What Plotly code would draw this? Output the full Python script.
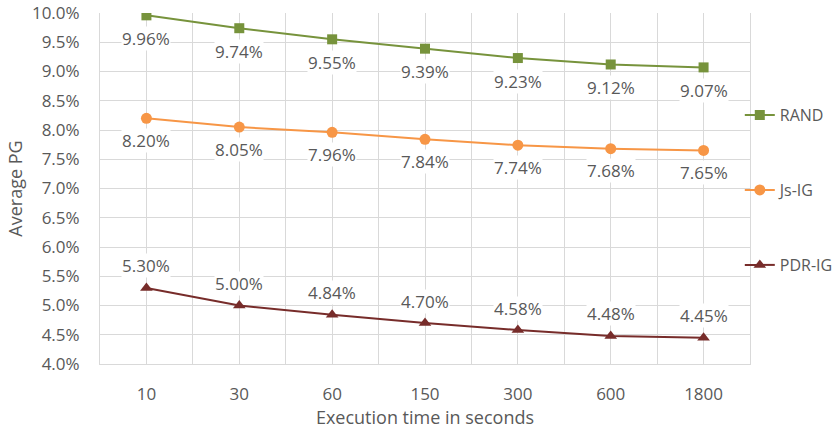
import plotly.graph_objects as go

categories = ["10", "30", "60", "150", "300", "600", "1800"]
rand_vals = [9.96, 9.74, 9.55, 9.39, 9.23, 9.12, 9.07]
jsig_vals = [8.20, 8.05, 7.96, 7.84, 7.74, 7.68, 7.65]
pdrig_vals = [5.30, 5.00, 4.84, 4.70, 4.58, 4.48, 4.45]

series = [
    ("RAND", rand_vals, "#77933C", "square", 10, -23, "legend"),
    ("Js-IG", jsig_vals, "#F79646", "circle", 11, -22, "legend2"),
    ("PDR-IG", pdrig_vals, "#772C2A", "triangle-up", 11, 22, "legend3"),
]

FONT = "Open Sans"
TXT = "#595959"
GRID = "#D9D9D9"
FS = 17

xs = list(range(len(categories)))
fig = go.Figure()
annotations = []
for name, vals, color, sym, size, shift, leg in series:
    fig.add_trace(go.Scatter(
        x=xs, y=vals, mode="lines+markers", name=name,
        line=dict(color=color, width=2),
        marker=dict(symbol=sym, size=size, color=color),
        legend=leg,
    ))
    for x, v in zip(xs, vals):
        annotations.append(dict(
            x=x, y=v, xref="x", yref="y", text=f"{v:.2f}%",
            showarrow=False, yshift=shift, bgcolor="white",
            font=dict(family=FONT, size=FS, color=TXT), borderpad=0,
        ))

LEG_X = 0.992 - 5 / 650
legend_common = dict(xanchor="left", yanchor="middle",
                     font=dict(family=FONT, size=16, color=TXT), itemwidth=30,
                     bgcolor="rgba(0,0,0,0)")
fig.update_layout(
    width=834, height=430,
    margin=dict(l=100, r=84, t=13, b=66, autoexpand=False),
    plot_bgcolor="white", paper_bgcolor="white",
    font=dict(family=FONT, size=FS, color=TXT),
    annotations=annotations,
    showlegend=True,
    legend=dict(x=LEG_X, y=(364 - 115) / 351, **legend_common),
    legend2=dict(x=LEG_X, y=(364 - 190) / 351, **legend_common),
    legend3=dict(x=LEG_X, y=(364 - 265) / 351, **legend_common),
)

fig.update_xaxes(
    range=[-0.5, 6.5], tickmode="array", tickvals=xs, ticktext=categories,
    showgrid=True, gridcolor=GRID, gridwidth=1,
    minor=dict(dtick=0.5, tick0=0.5, showgrid=True, gridcolor=GRID, gridwidth=1),
    showline=True, linecolor=GRID, linewidth=1, mirror=False,
    ticks="outside", ticklen=15, tickcolor="rgba(0,0,0,0)",
    tickfont=dict(family=FONT, size=FS, color=TXT),
    title=dict(text="Execution time in seconds", font=dict(family=FONT, size=18, color=TXT), standoff=0),
    zeroline=False,
)
fig.update_yaxes(
    range=[4.0, 10.0], dtick=0.5, tick0=4.0, tickformat=".1f", ticksuffix="%",
    showgrid=True, gridcolor=GRID, gridwidth=1,
    showline=True, linecolor=GRID, mirror=True,
    ticks="outside", ticklen=16, tickcolor="rgba(0,0,0,0)",
    tickfont=dict(family=FONT, size=FS, color=TXT),
    title=dict(text="Average PG", font=dict(family=FONT, size=18, color=TXT), standoff=4),
    zeroline=False,
)

fig.write_html(
    "out.html",
    config={"displayModeBar": False},
    post_script="document.body.style.margin='0';document.body.style.overflow='hidden';",
)
